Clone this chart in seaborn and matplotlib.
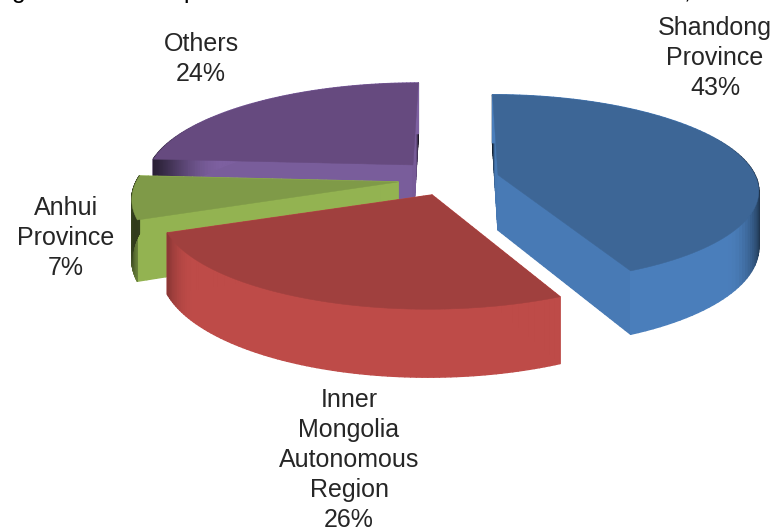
import numpy as np
import seaborn as sns
import matplotlib.pyplot as plt
from matplotlib.collections import PolyCollection
from matplotlib.colors import to_rgb

# share of each region, clockwise from the top of the pie
labels = ["Shandong\nProvince\n43%", "Inner\nMongolia\nAutonomous\nRegion\n26%", "Anhui\nProvince\n7%", "Others\n24%"]
shares = [43, 26, 7, 24]
top_colors = ["#3D6696", "#A0403E", "#7F9A48", "#664A7F"]
side_colors = ["#4A7EBB", "#BE4B48", "#98B954", "#7D60A0"]

# descenders of the caption line that is cut off by the top edge
cut_chars = ["g", "p", ","]
cut_x = [19, 190, 687]

# pie geometry in pixels
PERSP, VP_X = 0.146, 455
apex = [(498, 175), (432, 195), (398, 182), (413, 165)]
radius_x = [257, 268, 262, 263]
radius_y = [92, 97.6, 97.6, 94]
depth = [55, 58, 58, 58]
label_pos = [(715, 58), (349, 460), (66, 238), (201, 59)]

sns.set_theme(style="white")
plt.rcParams["font.family"] = ["Liberation Sans", "DejaVu Sans"]
top_pal = sns.color_palette(top_colors)
side_pal = sns.color_palette(side_colors)


def project(center, rx, ry, ang, r=1.0, down=0.0):
    c, s = np.cos(ang) * r, np.sin(ang) * r
    f = 1 / (1 + PERSP * s)
    x = VP_X + (center[0] - VP_X + rx * c) * f
    y = center[1] - ry * s * f + down * f
    return np.column_stack([x, y]) if np.ndim(ang) else np.array([x, y])


def shade(col, k):
    return tuple(np.clip(np.array(to_rgb(col)) * k, 0, 1))


def draw_slice(ax, a0, a1, center, rx, ry, dz, top, side):
    angs = np.linspace(a0, a1, 90)
    rim = project(center, rx, ry, angs)
    rim_low = project(center, rx, ry, angs, down=dz)
    polys, cols = [], []

    # radial walls, the ones running to the back of the pie go dark
    for end in (a0, a1):
        rr = np.linspace(1, 0, 30)
        edge = np.array([project(center, rx, ry, end, r=v) for v in rr])
        low = np.array([project(center, rx, ry, end, r=v, down=dz) for v in rr])
        for i in range(len(rr) - 1):
            polys.append([edge[i], edge[i + 1], low[i + 1], low[i]])
            k = 0.97 if np.sin(end) < 0.5 else 0.05 + 0.9 * min(1, (1 - rr[i]) * 1.6)
            cols.append(shade(side, k))

    # outer wall
    for i in range(len(angs) - 1):
        polys.append([rim[i], rim[i + 1], rim_low[i + 1], rim_low[i]])
        cc = abs(np.cos(angs[i]))
        k = 1 - 0.68 * np.clip((cc - 0.8) / 0.2, 0, 1) ** 2
        cols.append(shade(side, k))

    ax.add_collection(PolyCollection(polys, facecolors=cols, edgecolors=cols, linewidths=1.0))
    ax.fill(*np.vstack([rim, project(center, rx, ry, 0.0, r=0.0)]).T, color=top, lw=0.3)


fig, ax = plt.subplots(figsize=(7.76, 5.31), dpi=100)
fig.subplots_adjust(0, 0, 1, 1)
ax.set_xlim(0, 776)
ax.set_ylim(531, 0)
ax.axis("off")

bounds = np.cumsum([0] + shares) / sum(shares) * 2 * np.pi
starts = np.pi / 2 - bounds[:-1]
ends = np.pi / 2 - bounds[1:]
for i in [3, 0, 2, 1]:
    draw_slice(ax, starts[i], ends[i], apex[i], radius_x[i], radius_y[i], depth[i], top_pal[i], side_pal[i])

for lab, (x, y) in zip(labels, label_pos):
    ax.text(x, y, lab, ha="center", va="center", fontsize=18, color="#262626", linespacing=1.31)

for ch, x in zip(cut_chars, cut_x):
    ax.text(x, -2, ch, ha="center", va="baseline", fontsize=18, color="black")

fig.savefig("out.png", dpi=100)
